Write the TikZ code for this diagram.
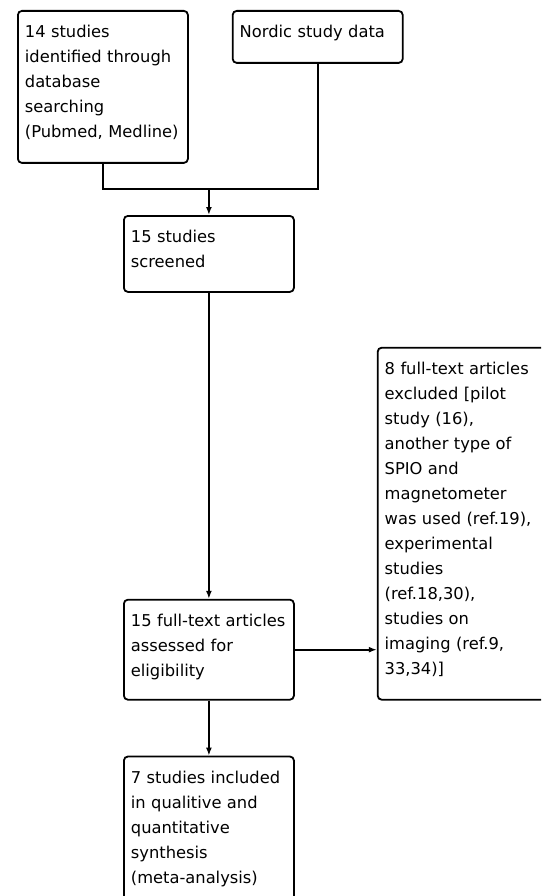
\documentclass[tikz,border=0pt]{standalone}
\usepackage{fontspec}
\setmainfont{DejaVu Sans}
\usetikzlibrary{positioning,arrows.meta}
\tikzset{
  box/.style={draw, rounded corners=4pt, line width=1.8pt, align=left, text width=156pt,
    inner xsep=7pt, inner ysep=0pt, text height=27pt, font=\fontsize{16.3}{25}\selectfont},
  flow/.style={line width=1.8pt},
}
\begin{document}
\begin{tikzpicture}[x=1pt, y=-1pt, >={Latex[length=8pt,width=6pt]}]
  \useasboundingbox (0,0) rectangle (541,896);
  \fill[white] (0,0) rectangle (541,896);
  \clip (0,0) rectangle (541,896);
  \node[box, anchor=north west, text depth=125pt] (search) at (17,10) {14 studies\\identified through\\database\\searching\\(Pubmed, Medline)};
  \node[box, right=43pt of search.north east, anchor=north west, text depth=25pt] (nordic) {Nordic study data};
  \node[box, anchor=north west, text depth=49pt] (screen) at (123,215) {15 studies\\screened};
  \node[box, below=306pt of screen, text depth=73pt] (assess) {15 full-text articles\\assessed for\\eligibility};
  \node[box, below=55pt of assess, text depth=133pt] (incl) {7 studies included\\in qualitive and\\quantitative\\synthesis\\(meta-analysis)};
  \node[box, right=82pt of assess.south east, anchor=south west, text width=180pt, text depth=325pt] (excl) {8 full-text articles\\excluded [pilot\\study (16),\\another type of\\SPIO and\\magnetometer\\was used (ref.19),\\experimental\\studies\\(ref.18,30),\\studies on\\imaging (ref.9,\\33,34)]};
  \coordinate[above=26pt of screen.north] (merge);
  \draw[flow] (search) |- (merge);
  \draw[flow] (nordic) |- (merge);
  \draw[flow,->] (merge) -- (screen);
  \draw[flow,->] (screen) -- (assess);
  \draw[flow,->] (assess.east) -- (assess.east -| excl.west);
  \draw[flow,->] (assess) -- (incl);
\end{tikzpicture}
\end{document}
